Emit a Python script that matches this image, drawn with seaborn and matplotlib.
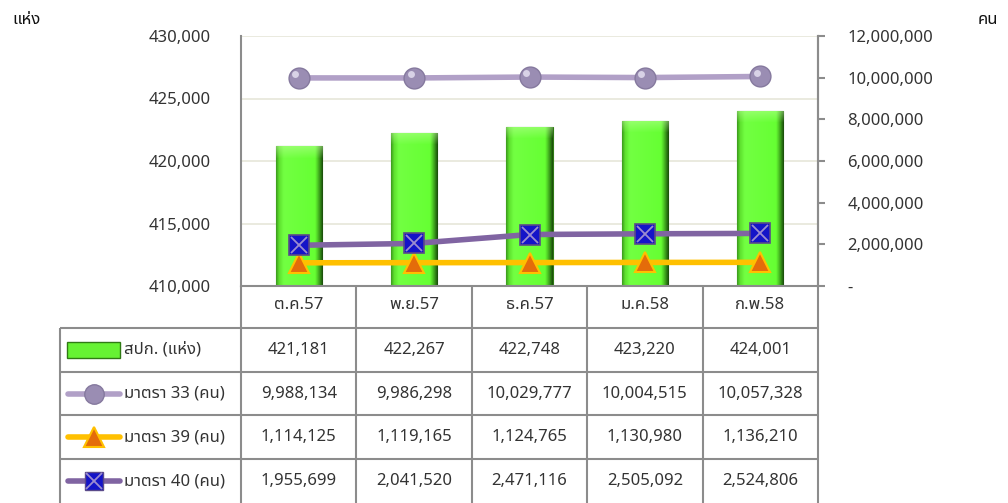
import matplotlib
matplotlib.use("Agg")
import matplotlib.pyplot as plt
import numpy as np
import pandas as pd
import seaborn as sns
from matplotlib import font_manager, ft2font, transforms
from matplotlib.colors import LinearSegmentedColormap
from matplotlib.lines import Line2D
from matplotlib.patches import Rectangle
from matplotlib.ticker import FuncFormatter

months = ["ต.ค.57", "พ.ย.57", "ธ.ค.57", "ม.ค.58", "ก.พ.58"]
offices = [421181, 422267, 422748, 423220, 424001]
sec33 = [9988134, 9986298, 10029777, 10004515, 10057328]
sec39 = [1114125, 1119165, 1124765, 1130980, 1136210]
sec40 = [1955699, 2041520, 2471116, 2505092, 2524806]
row_labels = ["สปก. (แห่ง)", "มาตรา 33 (คน)", "มาตรา 39 (คน)", "มาตรา 40 (คน)"]
left_ticks = [410000, 415000, 420000, 425000, 430000]
right_ticks = [0, 2000000, 4000000, 6000000, 8000000, 10000000, 12000000]


def find_thai_family():
    # first installed family that has Thai glyphs, if any
    preferred = ["Tahoma", "Noto Sans Thai", "Noto Sans Thai UI", "Loma", "Garuda",
                 "Sarabun", "Norasi", "Kinnari"]
    found = {}
    for f in font_manager.fontManager.ttflist:
        if f.name in found:
            continue
        try:
            if 0x0E01 in ft2font.FT2Font(f.fname).get_charmap():
                found[f.name] = True
        except Exception:
            continue
    for name in preferred:
        if name in found:
            return name
    return next(iter(found), None)


sns.set_style("white")
thai = find_thai_family()
families = ["Noto Sans"] + ([thai] if thai else []) + ["DejaVu Sans"]
plt.rcParams["font.family"] = families

W, H = 1008, 503
GRAY = "#8C8C8C"
TXT = "#333333"


def fx(x):
    return x / W


def fy(y):
    return 1 - y / H


fig = plt.figure(figsize=(W / 100, H / 100), dpi=100)
ax = fig.add_axes([fx(241), fy(286), fx(818) - fx(241), fy(36) - fy(286)])

df = pd.DataFrame({"month": months, "offices": offices})
sns.barplot(data=df, x="month", y="offices", ax=ax, color="#66FF33",
            saturation=1, width=0.40, edgecolor="#2F7A14", linewidth=0.8)

# bevel-like shading on the bars: horizontal gradient plus a lighter top band
green = LinearSegmentedColormap.from_list(
    "bev", [(0, "#3E9E1E"), (0.06, "#5EE02E"), (0.16, "#72FF42"), (0.84, "#66FF33"),
            (0.9, "#4CC424"), (1, "#1A4F0A")])
cols = green(np.linspace(0, 1, 64))[:, :3]
px_per_unit = 250 / (left_ticks[-1] - left_ticks[0])
for p in list(ax.patches):
    x0, w, h = p.get_x(), p.get_width(), p.get_height()
    bar_px = (h - left_ticks[0]) * px_per_unit
    nrow = max(int(bar_px), 2)
    img = np.repeat(cols[None, :, :], nrow, axis=0)
    band = min(12, nrow)
    for k in range(band):
        a = 0.45 * (1 - k / band)
        img[nrow - 1 - k] = img[nrow - 1 - k] * (1 - a) + np.array([0.78, 1, 0.65]) * a
    im = ax.imshow(img, extent=[x0, x0 + w, left_ticks[0], h],
                   aspect="auto", zorder=p.get_zorder() + 0.1, origin="lower")
    im.set_clip_path(p)

ax.set_xlim(-0.5, len(months) - 0.5)
ax.set_ylim(left_ticks[0], left_ticks[-1])
ax.set_yticks(left_ticks)
ax.yaxis.set_major_formatter(FuncFormatter(lambda v, _: f"{v:,.0f}"))
ax.grid(axis="y", color="#E8E8DC", lw=1.3)
ax.set_axisbelow(True)
ax.set_xlabel("")
ax.set_ylabel("")
ax.tick_params(axis="y", length=0, pad=22, labelsize=12, labelcolor=TXT)
ax.tick_params(axis="x", length=0, pad=8, labelsize=12, labelcolor=TXT)
for side in ["left", "bottom", "right"]:
    ax.spines[side].set_color(GRAY)
    ax.spines[side].set_linewidth(1.5)
ax.spines["top"].set_visible(False)

ax2 = ax.twinx()
xs = np.arange(len(months))
sns.lineplot(x=xs, y=sec39, ax=ax2, color="#FFC000", lw=4, marker="^",
             markersize=15, markerfacecolor="#E46C0A", markeredgecolor="#FFC000",
             markeredgewidth=1.5)
sns.lineplot(x=xs, y=sec40, ax=ax2, color="#8064A2", lw=4, marker="s",
             markersize=14, markerfacecolor="#1414C8", markeredgecolor="#5A4A8A",
             markeredgewidth=1.2)
ax2.plot(xs, sec40, ls="none", marker="x", ms=12, mew=1.3, color="#9C8CD0")
sns.lineplot(x=xs, y=sec33, ax=ax2, color="#B1A0C7", lw=4, marker="o",
             markersize=15, markerfacecolor="#9A8DB3", markeredgecolor="#85799E",
             markeredgewidth=1)
ax2.plot(xs - 0.03, np.array(sec33) + 180000, ls="none", marker="o", ms=5,
         mew=0, color="#D8D2E6")
ax2.set_ylim(right_ticks[0], right_ticks[-1])
ax2.set_yticks(right_ticks)
ax2.yaxis.set_major_formatter(
    FuncFormatter(lambda v, _: "-" if v == 0 else f"{v:,.0f}"))
ax2.tick_params(axis="y", length=5, width=1.5, color=GRAY, pad=16,
                labelsize=12, labelcolor=TXT)
ax2.set_ylabel("")
for side in ["left", "bottom", "top"]:
    ax2.spines[side].set_visible(False)
ax2.spines["right"].set_color(GRAY)
ax2.spines["right"].set_linewidth(1.5)
ax.set_xlim(-0.5, len(months) - 0.5)

fig.text(fx(12), fy(20), "แห่ง", fontsize=12, fontweight="bold", va="center",
         color="#111111")
fig.text(fx(978), fy(20), "คน", fontsize=12, fontweight="bold", va="center",
         color="#111111")

# data table under the chart
mix = transforms.blended_transform_factory(ax.transData, fig.transFigure)
row_y = [328, 372, 415, 459, 503]
lkw = dict(color=GRAY, lw=1.5, solid_capstyle="butt")
for y in row_y[:-1]:
    fig.add_artist(Line2D([fx(60), fx(818)], [fy(y), fy(y)],
                          transform=fig.transFigure, **lkw))
fig.add_artist(Line2D([fx(60), fx(60)], [fy(328), fy(503)],
                      transform=fig.transFigure, **lkw))
for b in np.arange(len(months) + 1) - 0.5:
    fig.add_artist(Line2D([b, b], [fy(286), fy(503)], transform=mix, **lkw))

rows = [offices, sec33, sec39, sec40]
for r, vals in enumerate(rows):
    yc = fy((row_y[r] + row_y[r + 1]) / 2)
    for i, v in enumerate(vals):
        fig.text(i, yc, f"{v:,}", transform=mix, ha="center", va="center",
                 fontsize=12, color=TXT)
    fig.text(fx(124), yc, row_labels[r], ha="left", va="center",
             fontsize=12, color=TXT)

# legend keys in the first column
ky = [fy((row_y[r] + row_y[r + 1]) / 2) for r in range(4)]
fig.add_artist(Rectangle((fx(67), ky[0] - 8 / H), fx(120) - fx(67), 16 / H,
                         transform=fig.transFigure, facecolor="#66F233",
                         edgecolor="#2F7A14", lw=1))
key_style = [
    dict(color="#B1A0C7", marker="o", ms=14, mfc="#9A8DB3", mec="#85799E"),
    dict(color="#FFC000", marker="^", ms=14, mfc="#E46C0A", mec="#FFC000", mew=1.5),
    dict(color="#8064A2", marker="s", ms=13, mfc="#1414C8", mec="#5A4A8A"),
]
for y, st in zip(ky[1:], key_style):
    fig.add_artist(Line2D([fx(68), fx(94), fx(120)], [y, y, y], lw=4,
                          markevery=[1], transform=fig.transFigure, **st))
fig.add_artist(Line2D([fx(94)], [ky[3]], ls="none", marker="x", ms=11, mew=1.3,
                      color="#9C8CD0", transform=fig.transFigure))

fig.savefig("out.png", dpi=100)
